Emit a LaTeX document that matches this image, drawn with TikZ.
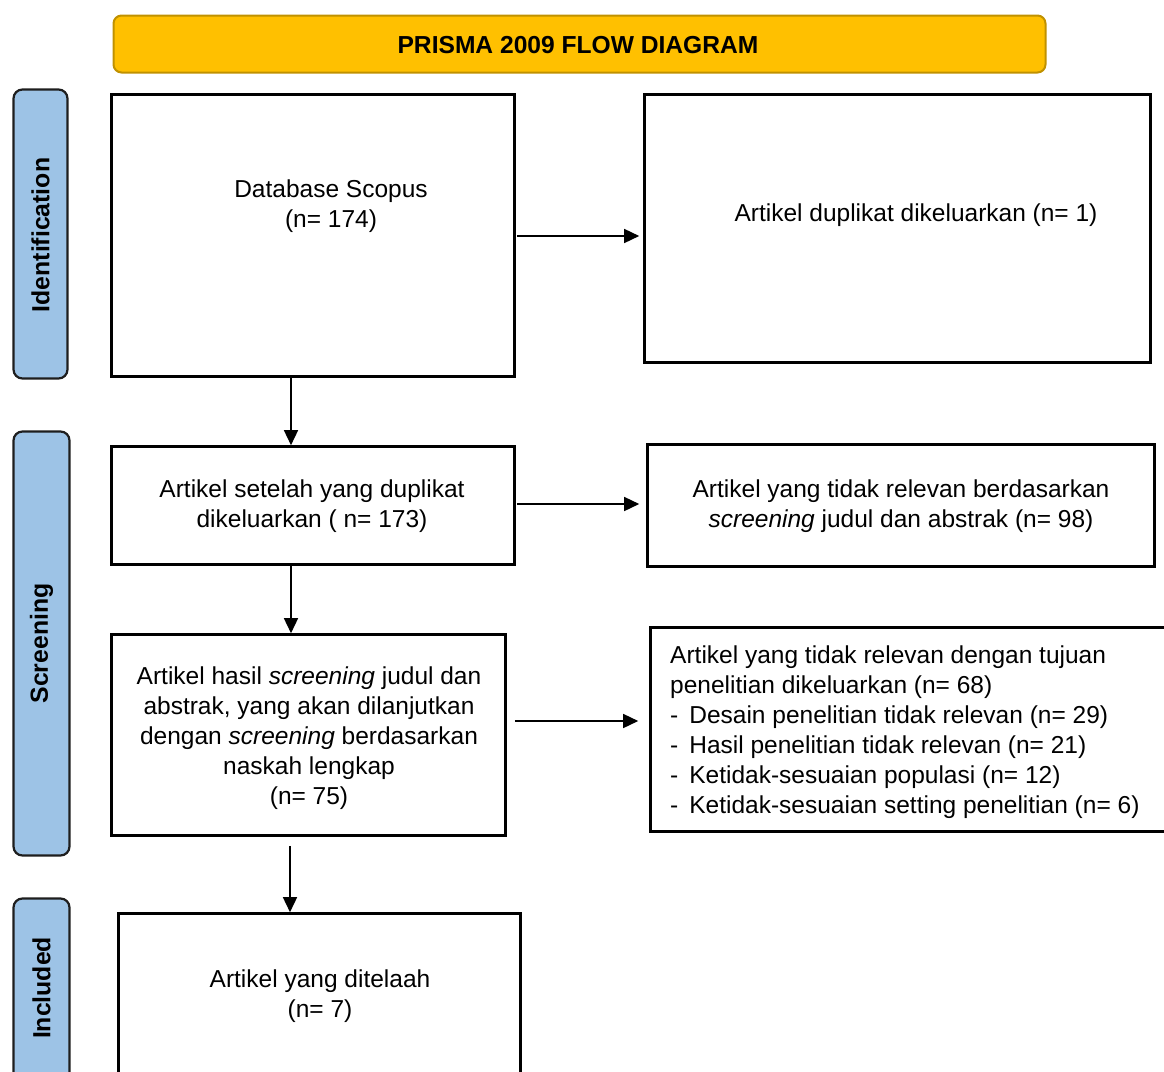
\documentclass[tikz,border=0pt]{standalone}
\usepackage{fontspec}
\setmainfont{Liberation Sans}
\usetikzlibrary{arrows.meta}
\definecolor{gold}{HTML}{FFC000}
\definecolor{golddark}{HTML}{C09100}
\definecolor{sideblue}{HTML}{9DC3E6}
\definecolor{sideline}{HTML}{1E1E1E}
\begin{document}
\begin{tikzpicture}[x=1pt,y=-1pt,
  box/.style={draw=black, line width=2.6pt, fill=white, inner sep=0pt},
  txt/.style={font=\fontsize{24.5}{30}\selectfont, align=center, inner sep=0pt},
  side/.style={draw=sideline, line width=2.2pt, fill=sideblue, rounded corners=9pt, inner sep=0pt},
  sidetxt/.style={font=\fontsize{24.8}{28}\selectfont\bfseries, rotate=90, inner sep=0pt},
  arr/.style={line width=1.5pt, -{Triangle[length=15pt,width=14pt]}}
]
\useasboundingbox (0,0) rectangle (1164,1071);
\clip (0,0) rectangle (1164,1071);

% title
\node[draw=golddark, line width=2pt, fill=gold, rounded corners=8pt,
      minimum width=932pt, minimum height=57pt] (title) at (579.5,44) {};
\node[font=\fontsize{24.6}{28}\selectfont\bfseries, inner sep=0pt] (titletxt) at (578,45) {PRISMA 2009 FLOW DIAGRAM};

% side bars
\node[side, minimum width=54pt, minimum height=289pt] (sid) at (40.5,234) {};
\node[sidetxt] (sidt) at (40.5,235) {Identification};
\node[side, minimum width=56pt, minimum height=424pt] (sscr) at (41.5,643.5) {};
\node[sidetxt] (sscrt) at (sscr.center) {Screening};
\node[side, minimum width=56pt, minimum height=190pt] (sinc) at (41.5,993.5) {};
\node[sidetxt] (sinct) at (41.5,988) {Included};

% boxes
\node[box, minimum width=403pt, minimum height=282pt] (b1) at (313,235.5) {};
\node[txt] (t1) at (331,206) {Database Scopus\\(n= 174)};

\node[box, minimum width=506pt, minimum height=268pt] (b2) at (897.5,228.5) {};
\node[txt] (t2) at (916,215) {Artikel duplikat dikeluarkan (n= 1)};

\node[box, minimum width=403pt, minimum height=118pt] (b3) at (313,505.5) {};
\node[txt] (t3) at (312,506) {Artikel setelah yang duplikat\\dikeluarkan ( n= 173)};

\node[box, minimum width=507pt, minimum height=122pt] (b4) at (901,505.5) {};
\node[txt] (t4) at (901,506) {Artikel yang tidak relevan berdasarkan\\\textit{screening} judul dan abstrak (n= 98)};

\node[box, minimum width=394pt, minimum height=201pt] (b5) at (308.5,735) {};
\node[txt] (t5) at (309,738) {Artikel hasil \textit{screening} judul dan\\abstrak, yang akan dilanjutkan\\dengan \textit{screening} berdasarkan\\naskah lengkap\\(n= 75)};

\node[box, minimum width=518pt, minimum height=204pt] (b6) at (909.5,729.5) {};
\node[txt, align=left, anchor=west] (t6) at (670,732) {Artikel yang tidak relevan dengan tujuan\\penelitian dikeluarkan (n= 68)\\-\hspace{11pt}Desain penelitian tidak relevan (n= 29)\\-\hspace{11pt}Hasil penelitian tidak relevan (n= 21)\\-\hspace{11pt}Ketidak-sesuaian populasi (n= 12)\\-\hspace{11pt}Ketidak-sesuaian setting penelitian (n= 6)};

\node[box, minimum width=402pt, minimum height=175pt] (b7) at (319.5,1001) {};
\node[txt] (t7) at (320,996) {Artikel yang ditelaah\\(n= 7)};

% arrows
\draw[arr, shorten <=1pt, shorten >=4pt] (b1.east |- 0,236) -- (b2.west |- 0,236);
\draw[arr, shorten <=1pt, shorten >=7pt] (b3.east |- 0,504) -- (b4.west |- 0,504);
\draw[arr, shorten <=8pt, shorten >=11pt] (b5.east |- 0,721) -- (b6.west |- 0,721);
\draw[arr] (b1.south -| 291,0) -- (b3.north -| 291,0);
\draw[arr] (b3.south -| 291,0) -- (b5.north -| 291,0);
\draw[arr, shorten <=9pt] (b5.south -| 290,0) -- (b7.north -| 290,0);
\end{tikzpicture}
\end{document}
